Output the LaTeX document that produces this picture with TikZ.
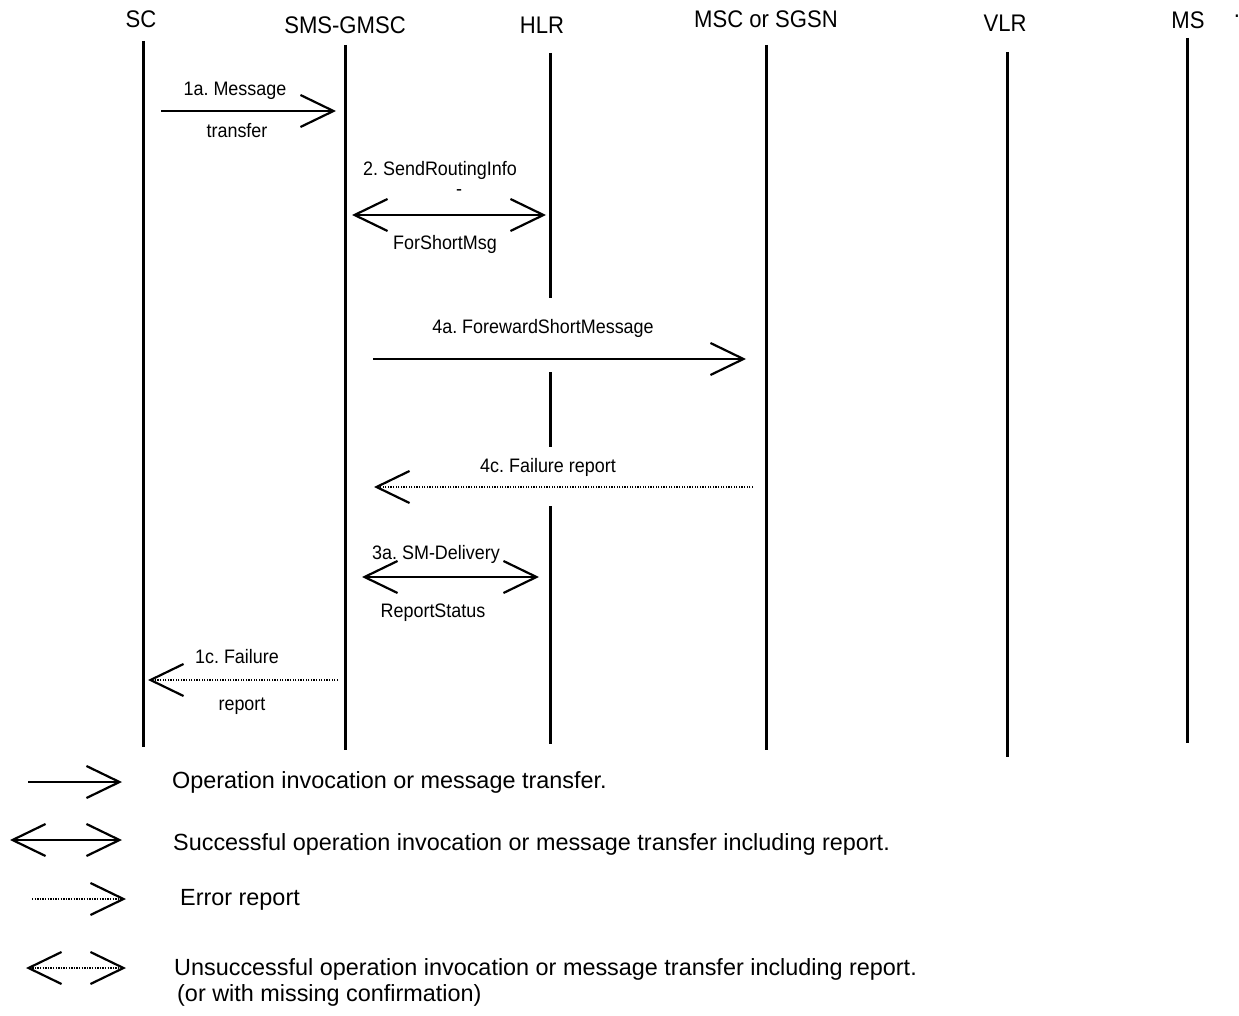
\documentclass[tikz,border=0pt]{standalone}
\usepackage{fontspec}
\setmainfont{Liberation Sans}
\newfontfamily\condfont[FakeStretch=0.92]{Liberation Sans}
\usetikzlibrary{arrows.meta}
\begin{document}
\frenchspacing
\begin{tikzpicture}[x=1pt,y=-1pt,
  >={Straight Barb[length=33pt,width=32pt,line width=2.2pt]},
  life/.style={line width=3pt},
  msg/.style={line width=2.2pt},
  err/.style={line width=1.5pt,dash pattern=on 1.3pt off 1.3pt},
  hdr/.style={anchor=base,inner sep=0pt,font=\condfont\fontsize{24}{28}\selectfont},
  lbl/.style={anchor=base,inner sep=0pt,font=\condfont\fontsize{19.5}{23}\selectfont},
  leg/.style={anchor=base west,inner sep=0pt,font=\fontsize{23.4}{27}\selectfont}]
\useasboundingbox (0,0) rectangle (1239,1016);

% headers
\node[hdr] (hSC)   at (141,28) {SC};
\node[hdr] (hGMSC) at (345,34) {SMS-GMSC};
\node[hdr] (hHLR)  at (542,34) {HLR};
\node[hdr] (hMSC)  at (766,28) {MSC or SGSN};
\node[hdr] (hVLR)  at (1005,32) {VLR};
\node[hdr] (hMS)   at (1188,29) {MS};
\node[hdr] (hdot)  at (1237,18) {.};

% lifelines
\coordinate (sct) at (143,41);   \coordinate (scb) at (143,747);
\coordinate (gmt) at (345,45);   \coordinate (gmb) at (345,750);
\coordinate (hl1t) at (550,53);  \coordinate (hl1b) at (550,298);
\coordinate (hl2t) at (550,372); \coordinate (hl2b) at (550,447);
\coordinate (hl3t) at (550,506); \coordinate (hl3b) at (550,744);
\coordinate (mst) at (766,45);   \coordinate (msb) at (766,750);
\coordinate (vlt) at (1007,52);  \coordinate (vlb) at (1007,757);
\coordinate (mot) at (1187,38);  \coordinate (mob) at (1187,743);
\draw[life] (sct) -- (scb);
\draw[life] (gmt) -- (gmb);
\draw[life] (hl1t) -- (hl1b);
\draw[life] (hl2t) -- (hl2b);
\draw[life] (hl3t) -- (hl3b);
\draw[life] (mst) -- (msb);
\draw[life] (vlt) -- (vlb);
\draw[life] (mot) -- (mob);

% 1a
\coordinate (a1s) at (161,111); \coordinate (a1e) at (336,111);
\draw[msg,->] (a1s) -- (a1e);
\node[lbl] (l1a) at (235,96) {1a. Message};
\node[lbl] (l1b) at (237,138) {transfer};

% 2
\coordinate (a2s) at (352,215); \coordinate (a2e) at (546,215);
\draw[msg,<->] (a2s) -- (a2e);
\node[lbl] (l2a) at (440,176) {2. SendRoutingInfo};
\node[lbl] (l2b) at (459,196) {-};
\node[lbl] (l2c) at (445,250) {ForShortMsg};

% 4a
\coordinate (a4s) at (373,359); \coordinate (a4e) at (746,359);
\draw[msg,->] (a4s) -- (a4e);
\node[lbl] (l4a) at (543,333) {4a. ForewardShortMessage};

% 4c
\coordinate (c4s) at (753,487); \coordinate (c4e) at (374,487);
\draw[err,->] (c4s) -- (c4e);
\node[lbl] (l4c) at (548,472) {4c. Failure report};

% 3a
\coordinate (a3s) at (362,577); \coordinate (a3e) at (539,577);
\draw[msg,<->] (a3s) -- (a3e);
\node[lbl] (l3a) at (436,559) {3a. SM-Delivery};
\node[lbl] (l3b) at (433,617) {ReportStatus};

% 1c
\coordinate (c1s) at (338,680); \coordinate (c1e) at (148,680);
\draw[err,->] (c1s) -- (c1e);
\node[lbl] (l1ca) at (237,663) {1c. Failure};
\node[lbl] (l1cb) at (242,710) {report};

% legend
\coordinate (g1s) at (28,782);  \coordinate (g1e) at (122,782);
\draw[msg,->] (g1s) -- (g1e);
\node[leg] (t1) at (172,788) {Operation invocation or message transfer.};
\coordinate (g2s) at (10,840);  \coordinate (g2e) at (122,840);
\draw[msg,<->] (g2s) -- (g2e);
\node[leg] (t2) at (173,850) {Successful operation invocation or message transfer including report.};
\coordinate (g3s) at (32,899);  \coordinate (g3e) at (126,899);
\draw[err,->] (g3s) -- (g3e);
\node[leg] (t3) at (180,905) {Error report};
\coordinate (g4s) at (26,968);  \coordinate (g4e) at (126,968);
\draw[err,<->] (g4s) -- (g4e);
\node[leg] (t4) at (174,975) {Unsuccessful operation invocation or message transfer including report.};
\node[leg] (t5) at (177,1001) {(or with missing confirmation)};
\end{tikzpicture}
\end{document}
